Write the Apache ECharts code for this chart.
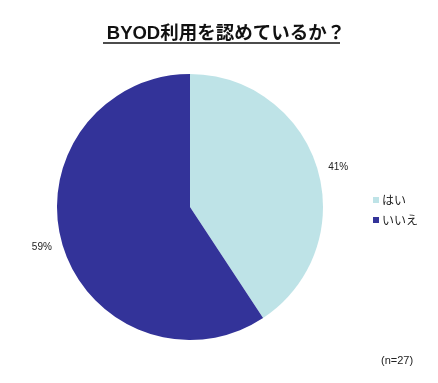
<!DOCTYPE html>
<html><head><meta charset="utf-8">
<script src="https://cdn.jsdelivr.net/npm/echarts@6/dist/echarts.min.js"></script>
<style>html,body{margin:0;padding:0;background:#fff}#c{width:438px;height:383px}</style>
</head><body><div id="c"></div>
<script>
const titleText = 'BYOD利用を認めているか？';
const categories = ['はい', 'いいえ'];
const counts = [11, 16];
const colors = ['#BEE3E7', '#333399'];
const noteText = '(n=27)';

const chart = echarts.init(document.getElementById('c'));
chart.setOption({
  backgroundColor: '#fff',
  animation: false,
  title: [
    { text: titleText, left: 221, top: 20, textAlign: 'center',
      textStyle: { fontFamily: 'Liberation Sans, Noto Sans CJK JP', fontSize: 18.5, fontWeight: 'bold', color: '#111' } },
    { text: noteText, left: 376, top: 350,
      textStyle: { fontFamily: 'Liberation Sans', fontSize: 11, fontWeight: 'normal', color: '#222' } }
  ],
  graphic: [
    { type: 'line', shape: { x1: 103, y1: 43, x2: 340, y2: 43 }, style: { stroke: '#111', lineWidth: 1.5 } }
  ],
  legend: {
    orient: 'vertical', left: 368, top: 189, itemWidth: 6, itemHeight: 6, itemGap: 8,
    icon: 'rect',
    textStyle: { fontFamily: 'Noto Sans CJK JP', fontSize: 12, color: '#222', padding: [0,0,0,-2] },
    data: categories
  },
  series: [{
    type: 'pie',
    center: [190, 207],
    radius: 133,
    startAngle: 90,
    clockwise: true,
    label: {
      show: true, position: 'outside', formatter: '{d}%', fontFamily: 'Liberation Sans', fontSize: 10, color: '#222'
    },
    percentPrecision: 0,
    labelLine: { show: false, length: 6, length2: 0 },
    itemStyle: { borderWidth: 0 },
    data: categories.map((c, i) => ({ name: c, value: counts[i], itemStyle: { color: colors[i] } }))
  }]
});
</script></body></html>
